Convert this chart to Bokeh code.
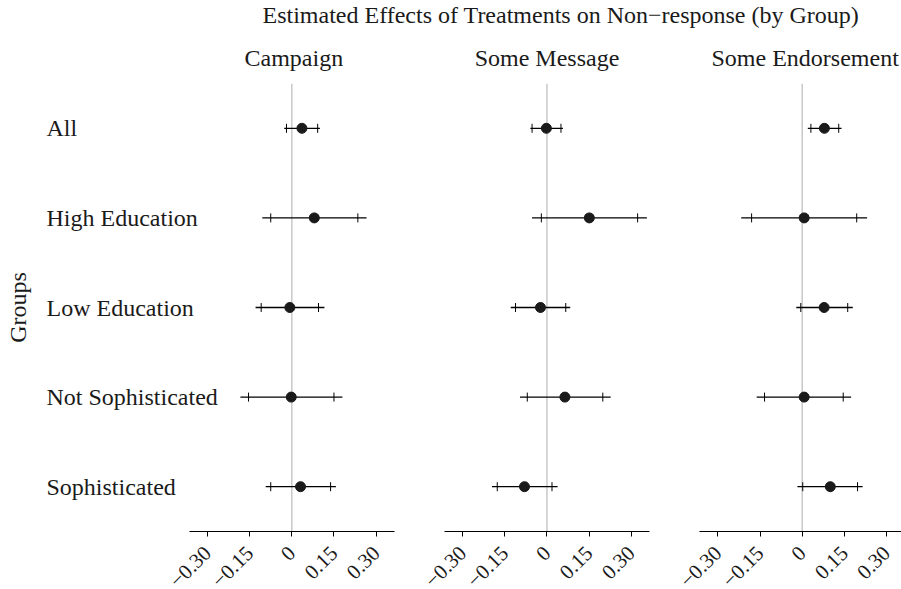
import math
from bokeh.plotting import figure
from bokeh.layouts import column, row
from bokeh.models import (ColumnDataSource, FactorRange, Range1d, Span, Title,
                          FixedTicker)
from bokeh.core.properties import value
from bokeh.embed import file_html
from bokeh.resources import INLINE

# ---------------- data ----------------
groups = ["All", "High Education", "Low Education", "Not Sophisticated", "Sophisticated"]
panels = ["Campaign", "Some Message", "Some Endorsement"]

est = {
    "Campaign":         [0.036, 0.080, -0.007, -0.002, 0.031],
    "Some Message":     [-0.002, 0.151, -0.023, 0.064, -0.080],
    "Some Endorsement": [0.079, 0.007, 0.078, 0.007, 0.100],
}
lo_inner = {
    "Campaign":         [-0.019, -0.075, -0.109, -0.154, -0.075],
    "Some Message":     [-0.053, -0.020, -0.112, -0.070, -0.177],
    "Some Endorsement": [0.031, -0.180, -0.005, -0.134, 0.002],
}
hi_inner = {
    "Campaign":         [0.092, 0.235, 0.095, 0.150, 0.138],
    "Some Message":     [0.050, 0.323, 0.067, 0.199, 0.018],
    "Some Endorsement": [0.130, 0.194, 0.162, 0.146, 0.197],
}
lo_outer = {
    "Campaign":         [-0.027, -0.105, -0.129, -0.183, -0.093],
    "Some Message":     [-0.059, -0.053, -0.129, -0.096, -0.196],
    "Some Endorsement": [0.020, -0.217, -0.021, -0.162, -0.017],
}
hi_outer = {
    "Campaign":         [0.100, 0.266, 0.116, 0.180, 0.157],
    "Some Message":     [0.057, 0.356, 0.083, 0.227, 0.038],
    "Some Endorsement": [0.140, 0.231, 0.180, 0.174, 0.215],
}

tick_values = [-0.30, -0.15, 0.0, 0.15, 0.30]
tick_labels = ["\u22120.30", "\u22120.15", "0", "0.15", "0.30"]

main_title = "Estimated Effects of Treatments on Non\u2212response (by Group)"
y_title = "Groups"

# ---------------- style ----------------
FONT = "Liberation Serif"
TXT = "#1a1a1a"
T_H = 32                 # title strip
B_TOP = 51               # panel top border (panel titles)
FRAME_H = 448            # panel plotting area
B_BOT = 6                # room for the axis line and tick marks
P_H = B_TOP + FRAME_H + B_BOT
L_H = 589 - T_H - P_H    # strip holding the rotated tick labels

# (canvas width, x range start, x range end, min_border_left, title align, title offset)
panel_geom = [
    (419, -0.9228, 0.4544, 32, "left", 212),
    (255, -0.454, 0.4544, 0, "center", 0),
    (227, -0.4544, 0.3534, 0, "left", 37),
]

title_fig = figure(width=901, height=T_H, toolbar_location=None, output_backend="svg",
                   x_axis_type=None, y_axis_type=None, min_border=0,
                   x_range=Range1d(0, 1), y_range=Range1d(0, 1))
title_fig.outline_line_color = None
title_fig.grid.visible = False
title_fig.add_layout(Title(text=main_title, align="left", offset=262, standoff=0,
                           text_font=FONT, text_font_size="24px",
                           text_font_style="normal", text_color=TXT,
                           vertical_align="middle"), "above")

tick_src = ColumnDataSource(dict(x=tick_values, y=[1] * len(tick_values),
                                 text=tick_labels))

figs = []
strips = []
for i, name in enumerate(panels):
    w, xs, xe, mbl, talign, toff = panel_geom[i]
    xr = Range1d(xs, xe)
    p = figure(width=w, height=P_H, toolbar_location=None, output_backend="svg",
               x_range=xr,
               y_range=FactorRange(factors=list(reversed(groups))),
               y_axis_location=None,
               min_border_top=B_TOP, min_border_bottom=B_BOT,
               min_border_left=mbl, min_border_right=0)
    p.outline_line_color = None
    p.grid.visible = False
    p.title.text = name
    p.title.text_font = FONT
    p.title.text_font_size = "24px"
    p.title.text_font_style = "normal"
    p.title.text_color = TXT
    p.title.align = talign
    p.title.offset = toff
    p.title.vertical_align = "top"
    p.title.standoff = 22

    src = ColumnDataSource(dict(
        g=groups, est=est[name], li=lo_inner[name], hi=hi_inner[name],
        lo=lo_outer[name], ho=hi_outer[name]))

    p.add_layout(Span(location=0, dimension="height", line_color="#c8c8c8",
                      line_width=1.5, level="underlay"))
    p.segment(x0="lo", y0="g", x1="ho", y1="g", source=src,
              line_color="black", line_width=1.3)
    p.scatter(x="li", y="g", source=src, marker="dash", angle=math.pi / 2,
              size=9, line_color="black", line_width=1)
    p.scatter(x="hi", y="g", source=src, marker="dash", angle=math.pi / 2,
              size=9, line_color="black", line_width=1)
    p.scatter(x="est", y="g", source=src, marker="circle", size=10,
              fill_color="#1a1a1a", line_color="#1a1a1a")

    ax = p.xaxis[0]
    ax.bounds = (-0.365, 0.365)
    ax.ticker = FixedTicker(ticks=tick_values)
    ax.major_label_overrides = {v: "" for v in tick_values}
    ax.major_label_text_font_size = "1px"
    ax.major_label_standoff = 0
    ax.axis_line_color = "black"
    ax.axis_line_width = 1.2
    ax.major_tick_line_color = "black"
    ax.major_tick_out = 5
    ax.major_tick_in = 0
    ax.minor_tick_line_color = None

    if i == 0:
        p.text(x=[xs] * len(groups), y=groups, text=groups, x_offset=14,
               text_font=value(FONT), text_font_size="24px", text_color=TXT,
               text_align="left", text_baseline="middle")
        p.add_layout(Title(text=y_title, align="center", text_font=FONT,
                           text_font_size="24px", text_font_style="normal",
                           text_color=TXT, standoff=0, vertical_align="top"),
                     "left")
    figs.append(p)

    # strip under the panel: rotated tick labels on the same x scale
    s = figure(width=w, height=L_H, toolbar_location=None, output_backend="svg",
               x_range=xr, y_range=Range1d(0, 1),
               x_axis_type=None, y_axis_type=None,
               min_border=0, min_border_left=mbl)
    s.outline_line_color = None
    s.grid.visible = False
    s.text(x="x", y="y", text="text", source=tick_src, angle=math.pi / 4,
           y_offset=12, text_align="right", text_baseline="middle",
           text_font=value(FONT), text_font_size="21px", text_color=TXT)
    strips.append(s)

layout = column(title_fig, row(*figs), row(*strips))
open("out.html", "w").write(file_html(layout, INLINE))
